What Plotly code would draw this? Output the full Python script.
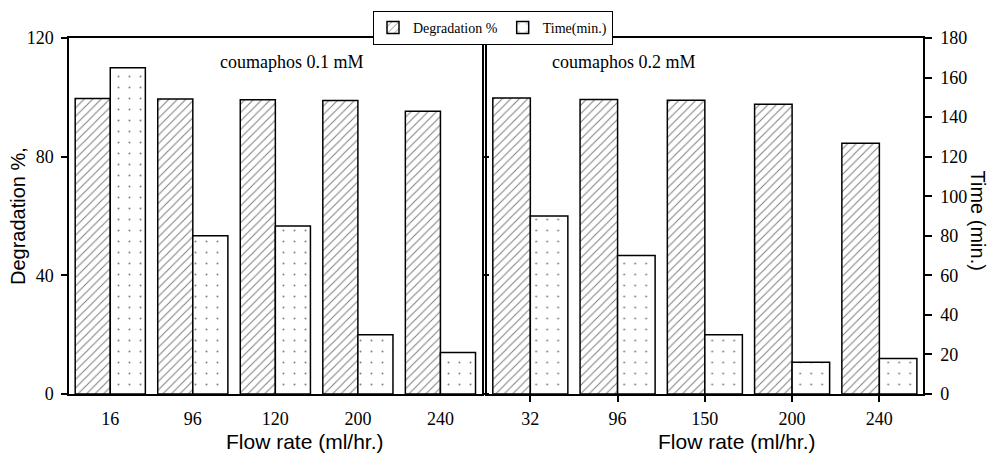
import plotly.graph_objects as go

# ---- data ----
flow_01 = ["16", "96", "120", "200", "240"]
deg_01 = [99.6, 99.4, 99.2, 98.9, 95.3]
time_01 = [165, 80, 85, 30, 21]

flow_02 = ["32", "96", "150", "200", "240"]
deg_02 = [99.8, 99.3, 99.0, 97.7, 84.5]
time_02 = [90, 70, 30, 16, 18]

deg_ticks = [0, 40, 80, 120]
time_ticks = [0, 20, 40, 60, 80, 100, 120, 140, 160, 180]

# ---- layout constants (pixels) ----
W, H = 994, 458
ML, MR, MT, MB = 69, 71, 37, 64
PW = W - ML - MR
PH = H - MT - MB


def px(x):
    return (x - ML) / PW


def py(y):
    return (H - MB - y) / PH


SERIF = "Liberation Serif"
SANS = "Liberation Sans"

hatch = dict(shape="/", fgcolor="black", bgcolor="white", size=6, solidity=0.17)
dots = dict(shape=".", fgcolor="black", bgcolor="white", size=11, solidity=0.025)
edge = dict(color="black", width=1.5)

fig = go.Figure()
fig.add_trace(go.Bar(x=flow_01, y=deg_01, name="Degradation %", xaxis="x", yaxis="y",
                     width=0.425, offset=-0.425,
                     marker=dict(color="white", pattern=hatch, line=edge), legendgroup="d"))
fig.add_trace(go.Bar(x=flow_01, y=time_01, name="Time(min.)", xaxis="x", yaxis="y2",
                     width=0.425, offset=0,
                     marker=dict(color="white", pattern=dots, line=edge), legendgroup="t"))
fig.add_trace(go.Bar(x=flow_02, y=deg_02, name="Degradation %", xaxis="x2", yaxis="y3",
                     width=0.43, offset=-0.43, showlegend=False,
                     marker=dict(color="white", pattern=hatch, line=edge), legendgroup="d"))
fig.add_trace(go.Bar(x=flow_02, y=time_02, name="Time(min.)", xaxis="x2", yaxis="y4",
                     width=0.43, offset=0, showlegend=False,
                     marker=dict(color="white", pattern=dots, line=edge), legendgroup="t"))

axis_common = dict(showline=True, linecolor="black", linewidth=1.5, showgrid=False,
                   zeroline=False, tickfont=dict(family=SERIF, size=18, color="black"),
                   tickcolor="black", tickwidth=1.5)

fig.update_layout(
    width=W, height=H,
    margin=dict(l=ML, r=MR, t=MT, b=MB),
    plot_bgcolor="white", paper_bgcolor="white",
    barmode="overlay",
    showlegend=True,
    legend=dict(orientation="h", x=px(493), xanchor="center", y=py(11), yanchor="top",
                bordercolor="black", borderwidth=1, bgcolor="white",
                font=dict(family=SERIF, size=14, color="black"),
                itemwidth=30, tracegroupgap=0),
    xaxis=dict(domain=[0, px(481.7)], anchor="y", range=[-0.5, 4.5], type="category",
               mirror=True, ticks="outside", ticklen=6, tickcolor="rgba(0,0,0,0)",
               ticklabelstandoff=2, **{k: v for k, v in axis_common.items() if k != "tickcolor"}),
    yaxis=dict(domain=[0, 1], anchor="x", range=[0, 120], tickvals=deg_ticks,
               ticks="outside", ticklen=6, mirror="ticks", ticklabelstandoff=4, **axis_common),
    yaxis2=dict(overlaying="y", anchor="x", range=[0, 180], visible=False),
    xaxis2=dict(domain=[px(486.7), 1], anchor="y3", range=[-0.5, 4.5], type="category",
                mirror=True, ticks="outside", ticklen=6, ticklabelstandoff=2, **axis_common),
    yaxis3=dict(domain=[0, 1], anchor="x2", range=[0, 120], showticklabels=False,
                ticks="", **axis_common),
    yaxis4=dict(overlaying="y3", anchor="x2", side="right", range=[0, 180],
                tickvals=time_ticks, ticks="outside", ticklen=7, ticklabelstandoff=5,
                **axis_common),
    font=dict(family=SERIF, color="black"),
)

annots = [
    dict(text="coumaphos 0.1 mM", x=px(292), y=py(61), font=dict(family=SERIF, size=18)),
    dict(text="coumaphos 0.2 mM", x=px(624), y=py(61), font=dict(family=SERIF, size=18)),
    dict(text="Flow rate (ml/hr.)", x=px(305), y=py(442), font=dict(family=SANS, size=21)),
    dict(text="Flow rate (ml/hr.)", x=px(737), y=py(442), font=dict(family=SANS, size=21)),
    dict(text="Degradation %,", x=px(18), y=py(215.5), textangle=-90,
         font=dict(family=SANS, size=20)),
    dict(text="Time (min.)", x=px(978), y=py(220), textangle=90,
         font=dict(family=SANS, size=20)),
]
for a in annots:
    a.update(xref="paper", yref="paper", xanchor="center", yanchor="middle",
             showarrow=False)
    a["font"]["color"] = "black"
    fig.add_annotation(**a)

fig.write_html("out.html")
